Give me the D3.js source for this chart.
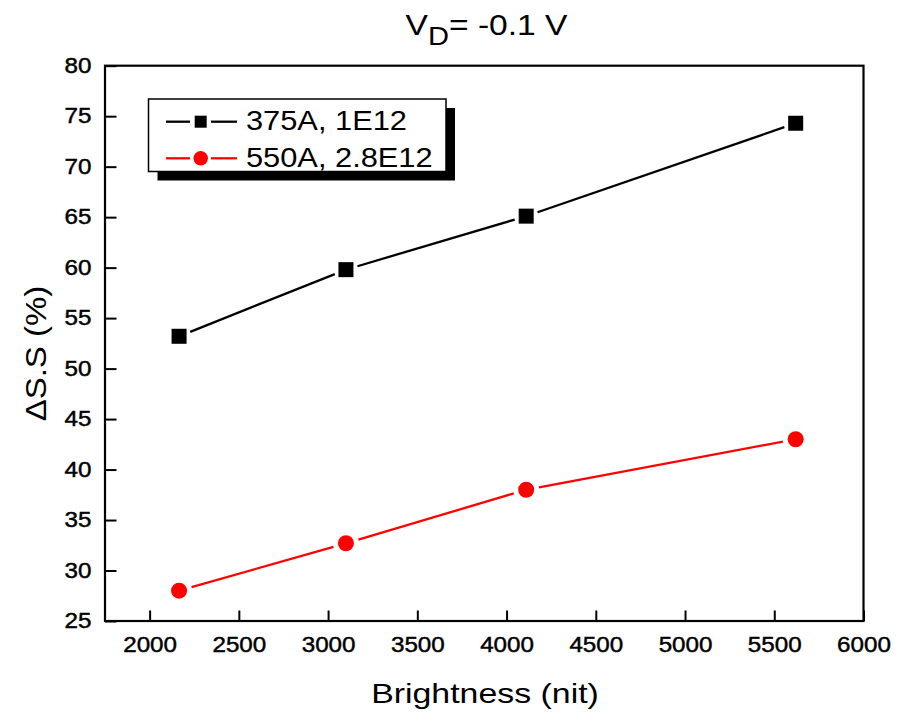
<!DOCTYPE html>
<html>
<head>
<meta charset="utf-8">
<script src="https://cdn.jsdelivr.net/npm/d3@7"></script>
<style>
  html, body { margin: 0; padding: 0; background: #fff; }
  svg { display: block; }
  text { font-family: "Liberation Sans", Arial, sans-serif; fill: #000; }
  .tick text { stroke: #000; stroke-width: 0.45px; }
</style>
</head>
<body>
<svg id="chart" width="897" height="713"></svg>
<script>
// Brightness (nit) for each measurement
const brightness = [2165, 3100, 4110, 5620];
// ΔS.S (%) for the two devices
const seriesA = [53.2, 59.8, 65.1, 74.3];   // 375A, 1E12
const seriesB = [28.0, 32.7, 38.0, 43.0];   // 550A, 2.8E12
const seriesNames = ["375A, 1E12", "550A, 2.8E12"];
const xTicks = [2000, 2500, 3000, 3500, 4000, 4500, 5000, 5500, 6000];
const yTicks = [25, 30, 35, 40, 45, 50, 55, 60, 65, 70, 75, 80];

const svg = d3.select("#chart");
const plot = { left: 105, right: 863.5, top: 65.7, bottom: 621 };
const SX = 1.1; // horizontal glyph stretch

const x = d3.scaleLinear().domain([1750, 6000]).range([plot.left, plot.right]);
const y = d3.scaleLinear().domain([25, 80]).range([plot.bottom, plot.top]);

// X axis (ticks pointing into the plot)
const gx = svg.append("g")
  .attr("transform", `translate(0,${plot.bottom})`)
  .call(d3.axisBottom(x).tickValues(xTicks).tickFormat(d3.format("d"))
    .tickSizeInner(-10.5).tickSizeOuter(0));
gx.select(".domain").remove();
gx.selectAll(".tick line").attr("stroke", "#000").attr("stroke-width", 2);
gx.selectAll(".tick text")
  .attr("y", 31).attr("dy", null)
  .attr("transform", `scale(${SX},1)`)
  .style("font-size", "22px");

// Y axis
const gy = svg.append("g")
  .attr("transform", `translate(${plot.left},0)`)
  .call(d3.axisLeft(y).tickValues(yTicks).tickFormat(d3.format("d"))
    .tickSizeInner(-11.5).tickSizeOuter(0));
gy.select(".domain").remove();
gy.selectAll(".tick line").attr("stroke", "#000").attr("stroke-width", 2);
gy.selectAll(".tick text")
  .attr("x", -13.5 / SX).attr("dy", "0.3em")
  .attr("transform", `scale(${SX},1)`)
  .style("font-size", "22px");

// Plot frame
svg.append("rect")
  .attr("x", plot.left).attr("y", plot.top)
  .attr("width", plot.right - plot.left).attr("height", plot.bottom - plot.top)
  .attr("fill", "none").attr("stroke", "#000").attr("stroke-width", 2.2);

// Connect points with segments that stop short of each marker
function gappedSegments(g, xs, ys, color, gap) {
  const pts = xs.map((v, i) => [x(v), y(ys[i])]);
  for (let i = 0; i < pts.length - 1; i++) {
    const [x0, y0] = pts[i], [x1, y1] = pts[i + 1];
    const len = Math.hypot(x1 - x0, y1 - y0);
    const ux = (x1 - x0) / len, uy = (y1 - y0) / len;
    g.append("line")
      .attr("x1", x0 + ux * gap).attr("y1", y0 + uy * gap)
      .attr("x2", x1 - ux * gap).attr("y2", y1 - uy * gap)
      .attr("stroke", color).attr("stroke-width", 2.3);
  }
}

const gA = svg.append("g");
gappedSegments(gA, brightness, seriesA, "#000", 12);
gA.selectAll("rect").data(brightness).join("rect")
  .attr("x", (d) => x(d) - 7.5)
  .attr("y", (d, i) => y(seriesA[i]) - 7.5)
  .attr("width", 15).attr("height", 15)
  .attr("fill", "#000");

const gB = svg.append("g");
gappedSegments(gB, brightness, seriesB, "#ff0000", 13);
gB.selectAll("circle").data(brightness).join("circle")
  .attr("cx", (d) => x(d))
  .attr("cy", (d, i) => y(seriesB[i]))
  .attr("r", 8)
  .attr("fill", "#ff0000");

// Legend with drop shadow
const lg = svg.append("g");
const lb = { x: 148.5, y: 99, w: 297.5, h: 72.5 };
lg.append("rect").attr("x", lb.x + 9).attr("y", lb.y + 9)
  .attr("width", lb.w).attr("height", lb.h).attr("fill", "#000");
lg.append("rect").attr("x", lb.x).attr("y", lb.y)
  .attr("width", lb.w).attr("height", lb.h)
  .attr("fill", "#fff").attr("stroke", "#000").attr("stroke-width", 1.5);

const rows = [
  { name: seriesNames[0], color: "#000", shape: "square", cy: 121.7, base: 130 },
  { name: seriesNames[1], color: "#ff0000", shape: "circle", cy: 158.3, base: 167 }
];
rows.forEach((r) => {
  lg.append("line").attr("x1", 166).attr("x2", 190).attr("y1", r.cy).attr("y2", r.cy)
    .attr("stroke", r.color).attr("stroke-width", 2.3);
  lg.append("line").attr("x1", 211).attr("x2", 237).attr("y1", r.cy).attr("y2", r.cy)
    .attr("stroke", r.color).attr("stroke-width", 2.3);
  if (r.shape === "square") {
    lg.append("rect").attr("x", 200.7 - 6).attr("y", r.cy - 6)
      .attr("width", 12).attr("height", 12).attr("fill", r.color);
  } else {
    lg.append("circle").attr("cx", 200.7).attr("cy", r.cy).attr("r", 7.2).attr("fill", r.color);
  }
  lg.append("text")
    .attr("transform", `translate(246,${r.base}) scale(${SX},1)`)
    .style("font-size", "28px")
    .text(r.name);
});

// Axis titles
svg.append("text")
  .attr("transform", `translate(485,703) scale(${SX * 1.1},1)`)
  .attr("text-anchor", "middle")
  .style("font-size", "28px")
  .text("Brightness (nit)");

svg.append("text")
  .attr("transform", `translate(46,353.5) rotate(-90) scale(1.1,1)`)
  .attr("text-anchor", "middle")
  .style("font-size", "30px")
  .text("ΔS.S (%)");

// Chart title
const title = svg.append("text")
  .attr("transform", `translate(486.5,35) scale(1.12,1)`)
  .attr("text-anchor", "middle")
  .style("font-size", "30px");
title.append("tspan").text("V");
title.append("tspan").attr("dy", 10).style("font-size", "26px").text("D");
title.append("tspan").attr("dy", -10).text("= -0.1 V");
</script>
</body>
</html>
